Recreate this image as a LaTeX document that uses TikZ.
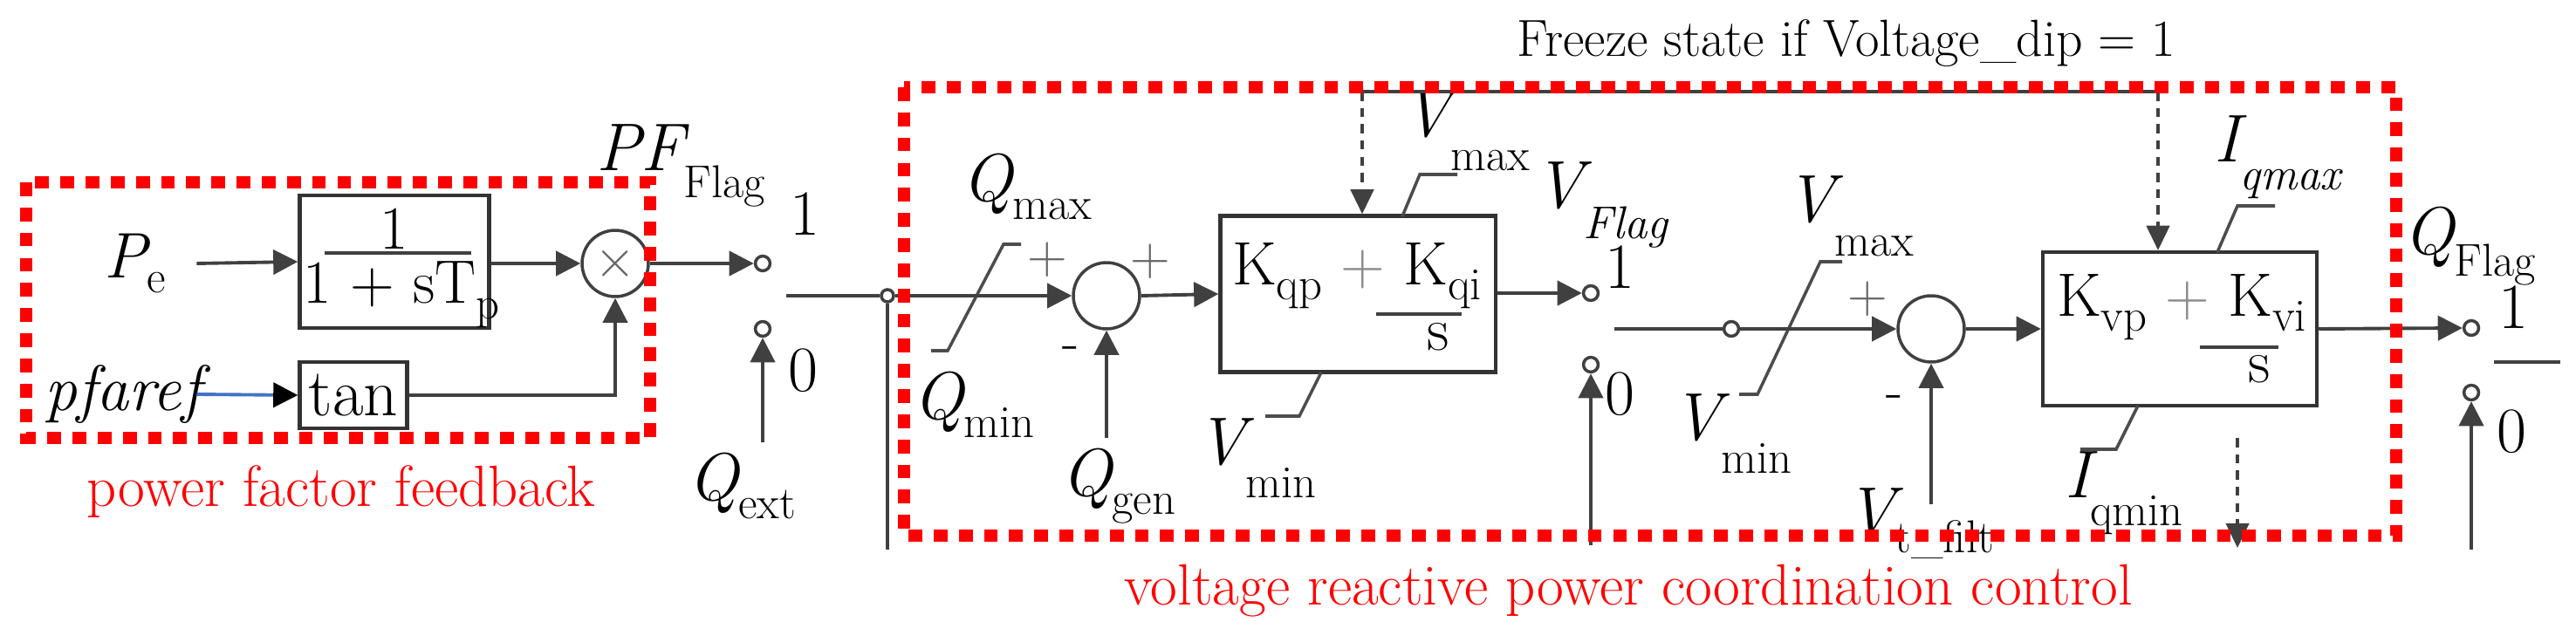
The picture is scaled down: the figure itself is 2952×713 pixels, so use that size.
\documentclass[tikz,border=0pt]{standalone}
\usetikzlibrary{arrows.meta,calc}
\definecolor{pfblue}{RGB}{68,114,196}
\newcommand\fsz[1]{\fontsize{#1}{#1}\selectfont}
\newcommand\mylab[4]{{\fsz{22}\itshape #1}\raisebox{#3}{\fsz{15}#4{#2}}}
\begin{document}
\begin{tikzpicture}[x=0.01cm,y=-0.01cm,
 ln/.style={draw=black!75, line width=1.1pt},
 arr/.style={ln, -{Triangle[length=8pt,width=8pt]}},
 darr/.style={draw=black!75, line width=1pt, dash pattern=on 3pt off 2.3pt, -{Triangle[length=8pt,width=7.5pt]}},
 blk/.style={draw=black!80, line width=1.2pt, fill=white, inner sep=0pt},
 cont/.style={circle, draw=black!75, line width=1pt, minimum size=4.8pt, inner sep=0pt, fill=white},
 sumc/.style={circle, draw=black!75, line width=1pt, minimum size=21.6pt, inner sep=0pt},
 lim/.style={draw=black!70, line width=1pt},
 redbox/.style={draw=red, line width=4pt, dash pattern=on 4.5pt off 3.7pt},
 txt/.style={inner sep=0pt, font=\fsz{21}},
 sgn/.style={inner sep=0pt, font=\fsz{18}, text=black!60},
 rtxt/.style={inner sep=0pt, text=red, font=\fsz{19}}]
\useasboundingbox (0,0) rectangle (2952,713);
% ---------- power factor feedback ----------
\node[txt] (pe) at (155,302) {\itshape P\raisebox{-5pt}{\fsz{15}\upshape e}};
\node[txt] (pfa) at (141,452) {\itshape pfaref};
\node[blk, minimum width=2.17cm, minimum height=1.52cm] (tf) at (452,300) {};
\node[txt, font=\fsz{20}] (tfn) at (452,262) {1};
\node[txt, font=\fsz{20}] (tfd) at (460,338) {1 + sT\raisebox{-5pt}{\fsz{15}p}};
\draw[ln] (372,290) -- (540,290);
\node[blk, minimum width=1.23cm, minimum height=0.76cm, font=\fsz{22}] (tan) at (405,453) {tan};
\node[sumc] (mul) at (705,302) {};
\node[sgn, font=\fsz{16}] (mx) at (mul) {$\times$};
\draw[arr] ([xshift=20pt]pe.center) -- (tf.west);
\draw[draw=pfblue, line width=1.1pt, -{Triangle[length=8pt,width=8pt,color=black]}] ([xshift=24pt]pfa.center) -- (tan.west);
\draw[arr] (tf.east |- mul.west) -- (mul.west);
\draw[arr] (tan.east) -| (mul.south);
% PF switch
\node[cont] (c1) at (874,302) {};
\node[cont] (c0) at (874,377) {};
\coordinate (qe) at (874,507);
\coordinate (arm1) at (901,339);
\node[cont, minimum size=4pt] (jn) at (1017,339) {};
\coordinate (jd) at (1017,630);
\draw[arr] (mul.east) -- (c1.west);
\draw[arr] (qe) -- (c0.south);
\draw[ln] (arm1) -- (jn.west);
\draw[ln] (jn.south) -- (jd);
\node[inner sep=0pt] (pff) at (780,190) {\mylab{PF}{Flag}{-9pt}{\upshape}};
\node[txt] (n1a) at (922,245) {1};
\node[txt] (n0a) at (920,425) {0};
\node[inner sep=0pt] (qext) at (850,557) {\mylab{Q}{ext}{-6pt}{\upshape}};
% ---------- Q loop ----------
\draw[lim] (1067,402) -- (1086,402) -- (1150,280) -- (1170,280);
\node[sumc] (s1) at (1268,339) {};
\draw[arr] (jn.east) -- (s1.west);
\coordinate (qg) at (1268,502);
\draw[arr] (qg) -- (s1.south);
\node[sgn] (p1) at (1200,298) {+};
\node[sgn] (p2) at (1318,300) {+};
\node[sgn, text=black] (m1) at (1227,405) {-};
\node[inner sep=0pt] (qmax) at (1177,214) {\mylab{Q}{max}{-6pt}{\upshape}};
\node[inner sep=0pt] (qmin) at (1116,464) {\mylab{Q}{min}{-6pt}{\upshape}};
\node[inner sep=0pt] (qgen) at (1282,557) {\mylab{Q}{gen}{-6pt}{\upshape}};
\node[blk, minimum width=3.15cm, minimum height=1.79cm] (kq) at (1556,337) {};
\draw[arr] (s1.east) -- (kq.west);
\node[inner sep=0pt, font=\fsz{20}] (kqt) at (1555,316) {K\raisebox{-5pt}{\fsz{15}qp} {\color{black!45}+} K\raisebox{-5pt}{\fsz{15}qi}};
\draw[ln] (1577,360) -- (1675,360);
\node[inner sep=0pt, font=\fsz{20}] (kqs) at (1648,386) {s};
\draw[lim] (1607,248) -- (1627,200) -- (1670,200);
\draw[lim] (1514,427) -- (1489,477) -- (1450,477);
\node[inner sep=0pt] (vmax1) at (1680,150) {\mylab{V}{max}{-11pt}{\upshape}};
\node[inner sep=0pt] (vmin1) at (1440,525) {\mylab{V}{min}{-11pt}{\upshape}};
% V switch
\node[cont] (v1) at (1823,336) {};
\node[cont] (v0) at (1823,418) {};
\coordinate (vd) at (1823,625);
\draw[arr] (kq.east |- v1) -- (v1.west);
\draw[arr] (vd) -- (v0.south);
\node[inner sep=0pt] (vfl) at (1835,235) {\mylab{V}{Flag}{-10pt}{\itshape}};
\node[txt] (n1b) at (1856,306) {1};
\node[txt] (n0b) at (1856,452) {0};
\coordinate (arm2) at (1850,377);
\node[cont] (vc) at (1984,377) {};
\draw[ln] (arm2) -- (vc.west);
% ---------- V loop ----------
\draw[lim] (1993,452) -- (2014,452) -- (2086,300) -- (2111,300);
\node[sumc] (s2) at (2213,377) {};
\draw[arr] (vc.east) -- (s2.west);
\coordinate (vt) at (2213,578);
\draw[arr] (vt) -- (s2.south);
\node[sgn] (p3) at (2140,343) {+};
\node[sgn, text=black] (m2) at (2171,461) {-};
\node[inner sep=0pt] (vmax2) at (2120,248) {\mylab{V}{max}{-11pt}{\upshape}};
\node[inner sep=0pt] (vmin2) at (1985,497) {\mylab{V}{min}{-11pt}{\upshape}};
\node[inner sep=0pt] (vtf) at (2200,600) {\mylab{V}{t\_filt}{-6pt}{\upshape}};
\node[blk, minimum width=3.14cm, minimum height=1.76cm] (kv) at (2498,377) {};
\draw[arr] (s2.east) -- (kv.west);
\node[inner sep=0pt, font=\fsz{20}] (kvt) at (2500,352) {K\raisebox{-5pt}{\fsz{15}vp} {\color{black!45}+} K\raisebox{-5pt}{\fsz{15}vi}};
\draw[ln] (2521,398) -- (2611,398);
\node[inner sep=0pt, font=\fsz{20}] (kvs) at (2589,423) {s};
\draw[lim] (2541,289) -- (2564,236) -- (2607,236);
\draw[lim] (2450,465) -- (2425,515) -- (2384,515);
\node[inner sep=0pt] (iqmax) at (2610,180) {\mylab{I}{qmax}{-9pt}{\itshape}};
\node[inner sep=0pt] (iqmin) at (2434,565) {\mylab{I}{qmin}{-9pt}{\upshape}};
% Q switch
\node[cont] (q1) at (2832,376) {};
\node[cont] (q0) at (2832,450) {};
\coordinate (qd) at (2832,630);
\draw[arr] (kv.east) -- (q1.west);
\draw[arr] (qd) -- (q0.south);
\coordinate (arm3a) at (2858,415);
\coordinate (arm3b) at (2934,415);
\draw[ln] (arm3a) -- (arm3b);
\node[inner sep=0pt] (qfl) at (2830,282) {\mylab{Q}{Flag}{-7pt}{\upshape}};
\node[txt] (n1c) at (2880,352) {1};
\node[txt] (n0c) at (2878,495) {0};
% ---------- freeze ----------
\node[inner sep=0pt, font=\fsz{17}] (frz) at (2116,50) {Freeze state if Voltage\_dip = 1};
\coordinate (f1) at (1561,105);
\coordinate (f2) at (2473,105);
\draw[ln] (f1) -- (f2);
\draw[darr] (f1) -- (f1 |- kq.north);
\draw[darr] (f2) -- (f2 |- kv.north);
\coordinate (f3) at (2564,502);
\coordinate (f4) at (2564,628);
\draw[darr] (f3) -- (f4);
% ---------- red groups ----------
\draw[redbox] (30,209) rectangle (745,502);
\draw[redbox] (1036,100) rectangle (2746,614);
\node[rtxt] (rt1) at (391,564) {power factor feedback};
\node[rtxt] (rt2) at (1866,677) {voltage reactive power coordination control};
\end{tikzpicture}
\end{document}
